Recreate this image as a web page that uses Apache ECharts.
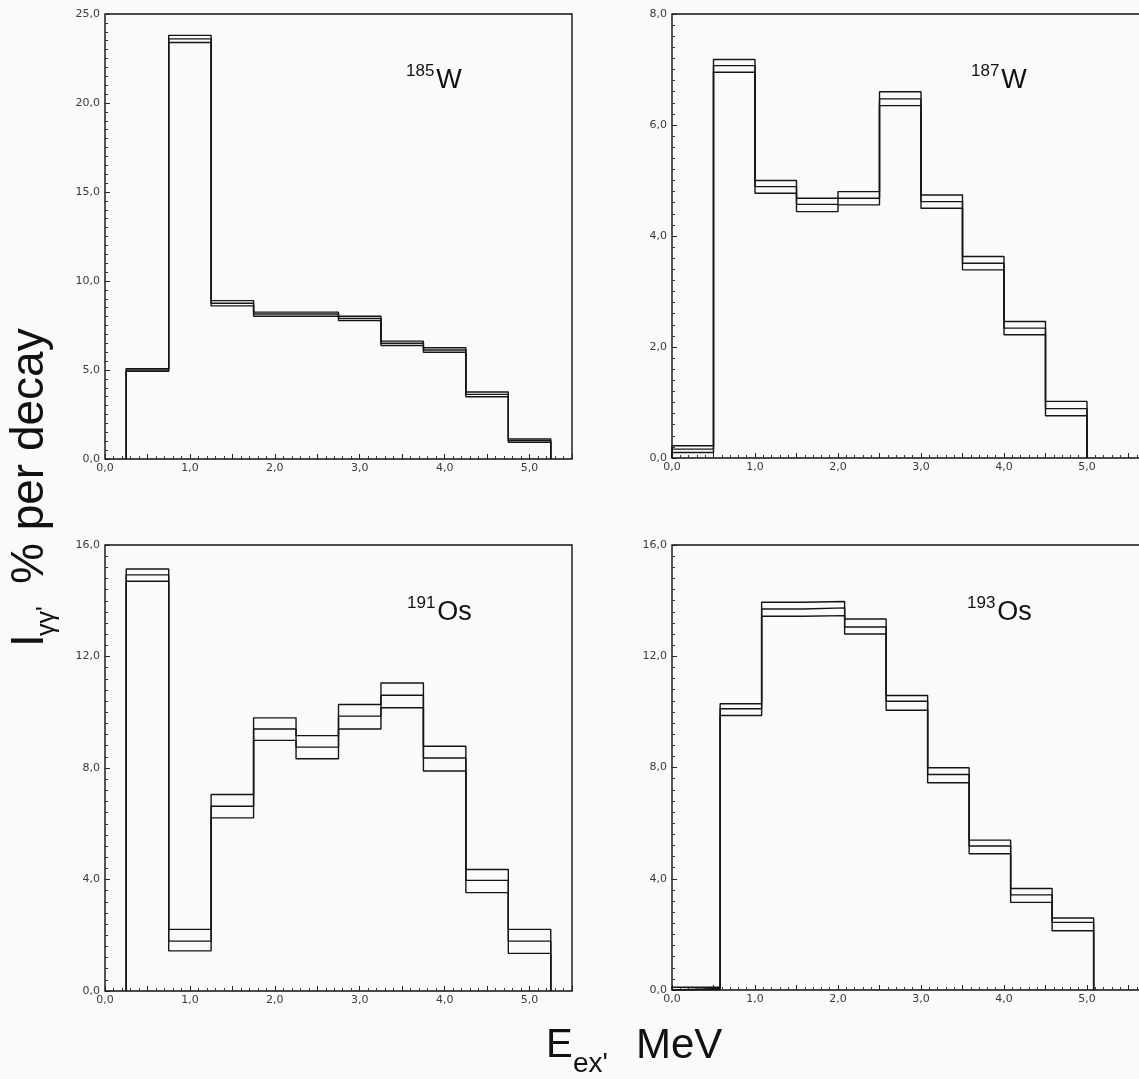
<!DOCTYPE html>
<html><head><meta charset="utf-8">
<script src="https://cdn.jsdelivr.net/npm/echarts/dist/echarts.min.js"></script>
<style>html,body{margin:0;padding:0;background:#fafafa}#c{width:1139px;height:1079px}</style>
</head><body><div id="c"></div>
<script>
// ---- data (MeV bin edges, % per decay) ----
const edgesW185 = [0.25,0.75,1.25,1.75,2.25,2.75,3.25,3.75,4.25,4.75,5.25];
const midW185   = [5.0,23.6,8.75,8.15,8.15,7.9,6.5,6.12,3.63,1.03];
const upW185    = [5.08,23.8,8.9,8.25,8.25,8.02,6.62,6.25,3.76,1.12];
const loW185    = [4.92,23.4,8.6,8.02,8.02,7.78,6.38,6.0,3.5,0.94];

const edgesW187 = [0,0.5,1.0,1.5,2.0,2.5,3.0,3.5,4.0,4.5,5.0];
const midW187   = [0.16,7.07,4.89,4.57,4.68,6.47,4.62,3.51,2.34,0.89];
const upW187    = [0.22,7.18,5.0,4.68,4.80,6.6,4.74,3.63,2.46,1.02];
const loW187    = [0.1,6.95,4.77,4.44,4.56,6.35,4.5,3.39,2.22,0.76];

const edgesOs191 = [0.25,0.75,1.25,1.75,2.25,2.75,3.25,3.75,4.25,4.75,5.25];
const midOs191   = [14.93,1.79,6.63,9.4,8.75,9.86,10.61,8.36,3.97,1.79];
const upOs191    = [15.14,2.21,7.05,9.8,9.16,10.28,11.05,8.78,4.36,2.21];
const loOs191    = [14.7,1.44,6.21,8.99,8.33,9.4,10.16,7.89,3.53,1.35];

const edgesOs193 = [0,0.58,1.08,1.58,2.08,2.58,3.08,3.58,4.08,4.58,5.08];
const midOs193   = [0.06,10.11,13.7,13.74,13.05,10.38,7.75,5.18,3.42,2.43];
const upOs193    = [0.1,10.29,13.94,13.97,13.34,10.59,7.99,5.39,3.65,2.59];
const loOs193    = [0.02,9.87,13.44,13.46,12.8,10.06,7.45,4.9,3.15,2.13];

const yMax = [25, 8, 16, 16];
const yStep = [5, 2, 4, 4];
const xMax = [5.5, 6.0, 5.5, 6.0];
const isoMass = ['185','187','191','193'];
const isoElem = ['W','W','Os','Os'];

// ---- build ----
const panels = [
  {edges:edgesW185, mid:midW185, up:upW185, lo:loW185},
  {edges:edgesW187, mid:midW187, up:upW187, lo:loW187},
  {edges:edgesOs191, mid:midOs191, up:upOs191, lo:loOs191},
  {edges:edgesOs193, mid:midOs193, up:upOs193, lo:loOs193}
];
const grids = [
  {left:105, top:14, width:467, height:445},
  {left:672, top:14, width:498, height:444},
  {left:105, top:545, width:467, height:446},
  {left:672, top:545, width:498, height:445}
];
function stepPts(edges, v){
  const p=[[edges[0],0]];
  for(let i=0;i<v.length;i++){p.push([edges[i],v[i]]);p.push([edges[i+1],v[i]]);}
  p.push([edges[edges.length-1],0]);
  return p;
}
const fmt = v => v.toFixed(1).replace('.', ',');
const labelStyle = {color:'#3a3a3a', fontSize:11, fontFamily:'DejaVu Sans'};
const xAxes=[], yAxes=[], series=[], graphic=[];
grids.forEach((g,i)=>{
  g.show=true; g.borderColor='#111'; g.borderWidth=1.4; g.backgroundColor='transparent';
  g.outerBoundsMode='none'; g.containLabel=false;
  xAxes.push({type:'value', gridIndex:i, min:0, max:xMax[i], interval:0.5,
    axisLine:{show:false}, splitLine:{show:false},
    axisTick:{inside:true, length:5, lineStyle:{color:'#222'}},
    minorTick:{show:true, splitNumber:5, length:3, lineStyle:{color:'#333'}},
    axisLabel:{...labelStyle, margin:4,
      formatter:v=> Math.abs(v-Math.round(v))<1e-6 ? fmt(v) : ''}});
  yAxes.push({type:'value', gridIndex:i, min:0, max:yMax[i], interval:yStep[i],
    axisLine:{show:false}, splitLine:{show:false},
    axisTick:{inside:true, length:5, lineStyle:{color:'#222'}},
    minorTick:{show:true, splitNumber:10, length:3, lineStyle:{color:'#333'}},
    axisLabel:{...labelStyle, margin:5, formatter:fmt}});
  const P=panels[i];
  [P.up,P.mid,P.lo].forEach(arr=>{
    series.push({type:'line', xAxisIndex:i, yAxisIndex:i, data:stepPts(P.edges,arr),
      showSymbol:false, symbol:'none', silent:true, animation:false,
      lineStyle:{color:'#151515', width:1.4}});
  });
});
// isotope labels
const isoPos = [[406,63],[971,63],[407,595],[967,595]];
isoPos.forEach((p,i)=>{
  graphic.push({type:'text', x:p[0], y:p[1], style:{text:isoMass[i], fontSize:17,
    fontFamily:'Liberation Sans', fill:'#111', textAlign:'left', textVerticalAlign:'top', align:'left', verticalAlign:'top'}});
  const w = isoMass[i].length*0.556*17 + 2;
  graphic.push({type:'text', x:p[0]+w, y:p[1]+4, style:{text:isoElem[i], fontSize:27,
    fontFamily:'Liberation Sans', fill:'#111', textAlign:'left', textVerticalAlign:'top', align:'left', verticalAlign:'top'}});
});
// y-axis title (rotated)
graphic.push({type:'text', x:30, y:647, rotation:Math.PI/2, style:{text:'I', fontSize:46,
  fontFamily:'Liberation Sans', fill:'#111', textAlign:'left', textVerticalAlign:'middle', align:'left', verticalAlign:'middle'}});
graphic.push({type:'text', x:47, y:636, rotation:Math.PI/2, style:{text:"γγ'", fontSize:25,
  fontFamily:'Liberation Sans', fill:'#111', textAlign:'left', textVerticalAlign:'middle', align:'left', verticalAlign:'middle'}});
graphic.push({type:'text', x:30, y:584, rotation:Math.PI/2, style:{text:'% per decay', fontSize:46,
  fontFamily:'Liberation Sans', fill:'#111', textAlign:'left', textVerticalAlign:'middle', align:'left', verticalAlign:'middle'}});
// x-axis title
graphic.push({type:'text', x:546, y:1046, style:{text:'E', fontSize:40,
  fontFamily:'Liberation Sans', fill:'#111', textAlign:'left', textVerticalAlign:'middle', align:'left', verticalAlign:'middle'}});
graphic.push({type:'text', x:573, y:1064, style:{text:"ex'", fontSize:28,
  fontFamily:'Liberation Sans', fill:'#111', textAlign:'left', textVerticalAlign:'middle', align:'left', verticalAlign:'middle'}});
graphic.push({type:'text', x:636, y:1046, style:{text:'MeV', fontSize:42,
  fontFamily:'Liberation Sans', fill:'#111', textAlign:'left', textVerticalAlign:'middle', align:'left', verticalAlign:'middle'}});

const chart = echarts.init(document.getElementById('c'), null, {renderer:'canvas'});
chart.setOption({backgroundColor:'#fafafa', animation:false, grid:grids, xAxis:xAxes, yAxis:yAxes, series, graphic});
</script></body></html>
